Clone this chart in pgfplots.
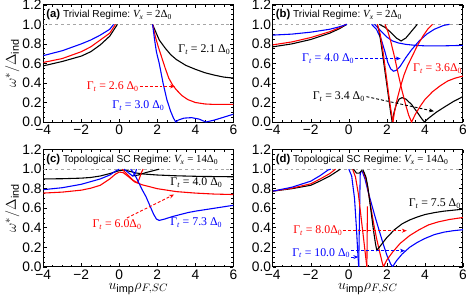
\documentclass[border=0pt]{standalone}
\usepackage{fontspec}
\setmainfont{Liberation Sans}
\newfontfamily\tnr{Liberation Serif}
\usepackage{pgfplots}
\pgfplotsset{compat=1.18}
\usepgfplotslibrary{groupplots}
\usetikzlibrary{arrows.meta}

% Gamma_t = ... labels in a Times-like face
\newcommand{\G}[1]{{\tnr Γ\textsubscript{\itshape t} = #1\textsubscript{0}}}
\newcommand{\Vx}[1]{{\tnr\fontsize{11}{12}\selectfont\itshape V\textsubscript{x}\upshape{} = #1Δ\textsubscript{0}}}
\newcommand{\Pn}[1]{{\fontsize{11.5}{12}\selectfont\bfseries (#1)}}

\tikzset{
  cv/.style={line width=1.1pt},
  lab/.style={font=\fontsize{12}{13}\selectfont, inner sep=1pt},
  ttl/.style={font=\fontsize{10.3}{12}\selectfont, anchor=west, inner sep=1pt},
  arr/.style={densely dashed, line width=0.9pt, -{Stealth[length=5pt,width=4pt]}},
}

\begin{document}
\begin{tikzpicture}
\begin{groupplot}[
  group style={group size=2 by 2, horizontal sep=40pt, vertical sep=28pt},
  scale only axis, width=193pt, height=119pt,
  xmin=-4, xmax=6, ymin=0, ymax=1.2,
  xtick={-4,-2,0,2,4,6}, xticklabels={−4,−2,0,2,4,6},
  ytick={0,0.2,...,1.2},
  minor x tick num=3, minor y tick num=3,
  major tick length=3.5pt, minor tick length=2pt,
  yticklabel style={/pgf/number format/fixed, /pgf/number format/fixed zerofill, /pgf/number format/precision=1, inner xsep=1.5pt, inner ysep=0pt},
  xticklabel style={yshift=-3pt, inner ysep=0pt},
  /pgf/number format/assume math mode=true,
  tick label style={font=\fontsize{14}{15}\selectfont},
  label style={font=\fontsize{15}{16}\selectfont},
  ylabel style={yshift=-2pt},
  xlabel style={yshift=0pt},
  axis line style={line width=0.8pt},
  every tick/.style={black, line width=0.6pt},
]
% ---------------- (a)
\nextgroupplot[ylabel={$\omega^*/\Delta_{\mbox{\fontsize{11}{12}\selectfont ind}}$}]
\addplot[gray!70, dashed, line width=0.8pt] coordinates {(-4,1) (6,1)};
\addplot[cv, black] coordinates {(-4,0.575) (-3,0.62) (-2,0.675) (-1.5,0.72) (-1,0.79) (-0.5,0.88) (-0.1,1.0)};
\addplot[cv, red] coordinates {(-4,0.61) (-3,0.65) (-2,0.72) (-1.5,0.77) (-1,0.84) (-0.5,0.91) (-0.2,1.0)};
\addplot[cv, blue] coordinates {(-4,0.68) (-3,0.73) (-2,0.8) (-1.5,0.84) (-1,0.89) (-0.5,0.95) (-0.3,1.0)};
\addplot[cv, black] coordinates {(1.75,1.0) (1.9,0.93) (2.1,0.84) (2.4,0.76) (2.7,0.69) (3.0,0.64) (3.5,0.58) (4.0,0.54) (4.5,0.505) (5,0.48) (5.5,0.46) (6,0.45)};
\addplot[cv, red] coordinates {(1.75,1.0) (1.9,0.87) (2.05,0.77) (2.2,0.68) (2.4,0.56) (2.6,0.45) (2.8,0.38) (3.0,0.33) (3.3,0.27) (3.6,0.23) (4,0.2) (4.5,0.185) (5,0.18) (6,0.18)};
\addplot[cv, blue] coordinates {(1.75,1.0) (1.85,0.85) (1.95,0.72) (2.1,0.6) (2.3,0.4) (2.5,0.23) (2.7,0.11) (2.85,0.04) (2.97,0.0) (3.1,0.02) (3.4,0.04) (3.8,0.045) (4.2,0.03) (4.55,0.0) (5.0,0.02) (5.5,0.05) (6,0.08)};
\node[ttl] at (rel axis cs:0.01,0.915) {\Pn{a} Trivial Regime:\ \Vx{2}};
\node[lab, anchor=east] at (axis cs:5.9,0.74) {\G{2.1 Δ}};
\node[lab, anchor=east, red] at (axis cs:1.08,0.365) {\G{2.6 Δ}};
\draw[arr, red] (axis cs:1.08,0.365) -- (axis cs:2.93,0.365);
\node[lab, anchor=east, blue] at (axis cs:2.43,0.17) {\G{3.0 Δ}};
% ---------------- (b)
\nextgroupplot
\addplot[gray!70, dashed, line width=0.8pt] coordinates {(-4,1) (6,1)};
\addplot[cv, black] coordinates {(-4,0.77) (-3,0.8) (-2,0.845) (-1,0.91) (-0.5,0.955) (-0.1,1.0)};
\addplot[cv, red] coordinates {(-4,0.79) (-3,0.82) (-2,0.865) (-1,0.925) (-0.5,0.965) (-0.15,1.0)};
\addplot[cv, blue] coordinates {(-4,0.89) (-3,0.9) (-2,0.92) (-1,0.95) (-0.5,0.975) (-0.1,1.0)};
\addplot[cv, blue] coordinates {(1.35,1.0) (1.55,0.96) (1.75,0.92) (2.0,0.87) (2.3,0.83) (2.6,0.81) (3.0,0.795) (3.5,0.785) (4,0.78) (5,0.78) (6,0.785)};
\addplot[cv, blue] coordinates {(1.2,1.0) (1.45,0.95) (1.7,0.85) (1.9,0.72) (2.05,0.61) (2.2,0.545) (2.35,0.52) (2.5,0.53) (2.7,0.57) (3.0,0.66) (3.3,0.74) (3.7,0.83) (4.1,0.9) (4.5,0.95) (5.0,0.99) (5.3,1.0)};
\addplot[cv, black] coordinates {(1.6,1.0) (1.9,0.97) (2.2,0.92) (2.5,0.86) (2.75,0.83) (3.0,0.86) (3.3,0.93) (3.6,1.0)};
\addplot[cv, black] coordinates {(1.5,1.0) (1.6,0.92) (1.7,0.8) (1.8,0.66) (1.9,0.52) (2.0,0.38) (2.1,0.24) (2.2,0.1) (2.28,0.0)};
\addplot[cv, black] coordinates {(2.28,0) (2.38,0.1) (2.5,0.18) (2.65,0.235) (2.8,0.25) (3.0,0.235) (3.3,0.18) (3.6,0.1) (3.85,0.03) (3.98,0.0) (4.2,0.04) (4.6,0.1) (5,0.15) (5.5,0.21) (6,0.26)};
\addplot[cv, red] coordinates {(1.5,1.0) (1.65,0.9) (1.8,0.72) (1.95,0.5) (2.1,0.28) (2.2,0.14) (2.32,0.0)};
\addplot[cv, red] coordinates {(2.32,0) (2.4,0.1) (2.55,0.24) (2.7,0.35) (2.9,0.48) (3.1,0.58) (3.35,0.68) (3.6,0.78) (3.9,0.88) (4.15,0.95) (4.4,1.0)};
\addplot[cv, red] coordinates {(1.9,1.0) (2.05,0.93) (2.2,0.83) (2.4,0.67) (2.6,0.49) (2.8,0.32) (3.0,0.17) (3.15,0.07) (3.3,0.0) (3.5,0.08) (3.75,0.16) (4.0,0.23) (4.4,0.31) (4.8,0.37) (5.2,0.42) (5.6,0.45) (6,0.47)};
\node[ttl] at (rel axis cs:0.01,0.915) {\Pn{b} Trivial Regime:\ \Vx{2}};
\node[lab, anchor=east, blue] at (axis cs:0.34,0.65) {\G{4.0 Δ}};
\draw[arr, blue] (axis cs:0.34,0.65) -- (axis cs:2.73,0.65);
\node[lab, anchor=east, red] at (axis cs:6.02,0.55) {\G{3.6Δ}};
\node[lab, anchor=east] at (axis cs:0.9,0.26) {\G{3.4 Δ}};
\draw[arr, black] (axis cs:0.93,0.26) -- (axis cs:4.48,0.11);
% ---------------- (c)
\nextgroupplot[ylabel={$\omega^*/\Delta_{\mbox{\fontsize{11}{12}\selectfont ind}}$}, xlabel={$u_{\mbox{\fontsize{11}{12}\selectfont imp}}\rho_{F,SC}$}]
\addplot[gray!70, dashed, line width=0.8pt] coordinates {(-4,1) (6,1)};
\addplot[cv, black] coordinates {(-4,0.9) (-3,0.902) (-2,0.908) (-1.5,0.915) (-1,0.93) (-0.5,0.955) (0,0.985) (0.3,0.99) (0.6,0.975) (0.9,0.96) (1.3,0.95) (2,0.94) (3,0.932) (4,0.927) (5,0.924) (6,0.922)};
\addplot[cv, black] coordinates {(0.7,0.93) (1.0,0.94) (1.4,0.965) (1.8,0.985) (2.1,1.0)};
\addplot[cv, red] coordinates {(-4,0.755) (-3,0.765) (-2,0.785) (-1.5,0.805) (-1,0.835) (-0.5,0.9) (-0.2,0.95) (0,0.97) (0.2,0.965) (0.5,0.92) (0.8,0.87) (1.0,0.855) (1.2,0.84) (1.6,0.82) (2,0.8) (3,0.77) (4,0.755) (5,0.745) (6,0.74)};
\addplot[cv, red] coordinates {(0.95,0.86) (1.05,0.9) (1.15,0.96) (1.25,1.0)};
\addplot[cv, red] coordinates {(0.15,1.0) (0.4,0.95) (0.7,0.89) (0.95,0.86)};
\addplot[cv, blue] coordinates {(-4,0.79) (-3,0.81) (-2,0.845) (-1,0.9) (-0.5,0.94) (-0.2,0.98) (0,1.0)};
\addplot[cv, blue] coordinates {(0.25,1.0) (0.5,0.96) (0.7,0.93) (0.85,0.96) (0.9,1.0)};
\addplot[cv, blue] coordinates {(0.6,1.0) (0.8,0.95) (1.0,0.87) (1.2,0.79) (1.4,0.72) (1.6,0.63) (1.8,0.54) (1.95,0.49) (2.1,0.475) (2.4,0.49) (2.8,0.515) (3.2,0.535) (3.6,0.555) (4,0.57) (4.5,0.585) (5,0.6) (5.5,0.615) (6,0.63)};
\node[ttl] at (rel axis cs:0.01,0.915) {\Pn{c} Topological SC Regime:\ \Vx{14}};
\node[lab, anchor=east] at (axis cs:5.48,0.865) {\G{4.0 Δ}};
\node[lab, anchor=east, red] at (axis cs:1.23,0.43) {\G{6.0Δ}};
\draw[arr, red] (axis cs:0.4,0.5) -- (axis cs:2.88,0.74);
\node[lab, anchor=east, blue] at (axis cs:5.47,0.455) {\G{7.3 Δ}};
% ---------------- (d)
\nextgroupplot[xlabel={$u_{\mbox{\fontsize{11}{12}\selectfont imp}}\rho_{F,SC}$}]
\addplot[gray!70, dashed, line width=0.8pt] coordinates {(-4,1) (6,1)};
\addplot[cv, black] coordinates {(-4,0.775) (-3,0.8) (-2,0.835) (-1.5,0.88) (-1,0.93) (-0.6,0.98) (-0.45,1.0)};
\addplot[cv, red] coordinates {(-4,0.775) (-3,0.805) (-2,0.85) (-1.5,0.9) (-1,0.955) (-0.7,1.0)};
\addplot[cv, blue] coordinates {(-4,0.775) (-3,0.815) (-2,0.877) (-1.5,0.935) (-1.1,0.99) (-0.95,1.0)};
\addplot[cv, blue] coordinates {(0.0,1.0) (0.15,0.93) (0.3,0.7) (0.4,0.4) (0.47,0.15) (0.52,0.0)};
\addplot[cv, blue] coordinates {(0.52,0) (0.56,0.5) (0.6,0.95) (0.65,0.98)};
\addplot[cv, blue] coordinates {(0.7,0.98) (0.85,0.9) (1.0,0.78) (1.2,0.64) (1.4,0.5) (1.6,0.37) (1.8,0.24) (2.0,0.12) (2.2,0.03) (2.3,0.0) (2.5,0.06) (2.8,0.13) (3.2,0.2) (3.6,0.25) (4,0.29) (4.5,0.33) (5,0.355) (5.5,0.37) (6,0.38)};
\addplot[cv, red] coordinates {(0.2,1.0) (0.35,0.92) (0.5,0.75) (0.65,0.5) (0.8,0.25) (0.9,0.08) (0.95,0.0)};
\addplot[cv, red] coordinates {(0.95,0) (0.98,0.62)};
\addplot[cv, red] coordinates {(0.75,0.98) (0.9,0.9) (1.0,0.8) (1.15,0.62) (1.3,0.45) (1.45,0.3) (1.6,0.17) (1.75,0.05) (1.82,0.0) (2.0,0.07) (2.3,0.15) (2.7,0.24) (3.2,0.32) (3.7,0.38) (4.2,0.43) (4.7,0.46) (5.3,0.485) (6,0.505)};
\addplot[cv, black] coordinates {(0.25,1.0) (0.4,0.96) (0.55,0.96) (0.7,0.99)};
\addplot[cv, black] coordinates {(0.75,0.99) (0.9,0.92) (1.0,0.82) (1.1,0.67) (1.2,0.52) (1.3,0.37) (1.4,0.24) (1.47,0.17) (1.6,0.2) (1.8,0.25) (2.0,0.3) (2.4,0.38) (2.8,0.44) (3.2,0.48) (3.6,0.51) (4,0.535) (4.5,0.555) (5,0.57) (5.5,0.58) (6,0.59)};
\node[ttl] at (rel axis cs:0.01,0.915) {\Pn{d} Topological SC Regime:\ \Vx{14}};
\node[lab, anchor=east] at (axis cs:5.95,0.65) {\G{7.5 Δ}};
\node[lab, anchor=east, red] at (axis cs:-0.28,0.37) {\G{8.0Δ}};
\draw[arr, red] (axis cs:-0.28,0.37) -- (axis cs:3.05,0.37);
\node[lab, anchor=east, blue] at (axis cs:0.13,0.14) {\G{10.0 Δ}};
\draw[arr, blue] (axis cs:0.13,0.165) -- (axis cs:2.95,0.165);
\draw[arr, blue] (axis cs:0.13,0.1) -- (axis cs:0.5,0.1);
\end{groupplot}
\path ([xshift=-2pt]current bounding box.west);
\end{tikzpicture}
\end{document}
